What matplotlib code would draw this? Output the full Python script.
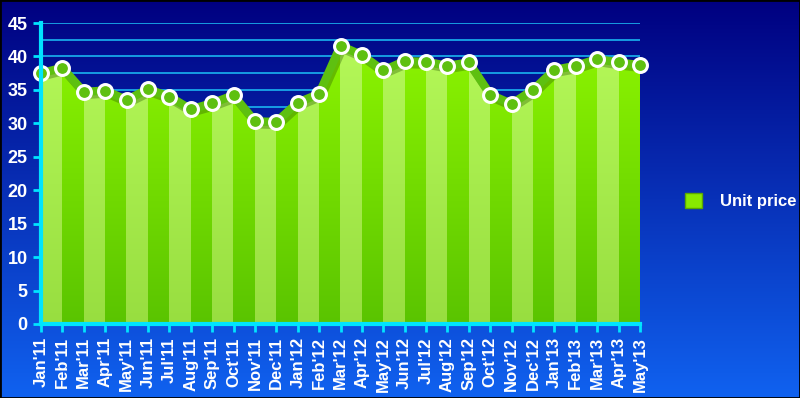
import numpy as np
import matplotlib
matplotlib.use("Agg")
import matplotlib.pyplot as plt
from matplotlib.patches import Patch, Polygon
import matplotlib.transforms as mtransforms

plt.rcParams['font.family'] = ['Liberation Sans', 'DejaVu Sans']

months = ["Jan'11", "Feb'11", "Mar'11", "Apr'11", "May'11", "Jun'11", "Jul'11",
          "Aug'11", "Sep'11", "Oct'11", "Nov'11", "Dec'11", "Jan'12", "Feb'12",
          "Mar'12", "Apr'12", "May'12", "Jun'12", "Jul'12", "Aug'12", "Sep'12",
          "Oct'12", "Nov'12", "Dec'12", "Jan'13", "Feb'13", "Mar'13", "Apr'13",
          "May'13"]
unit_price = [37.5, 38.3, 34.7, 34.9, 33.5, 35.1, 34.0, 32.1, 33.0, 34.2,
              30.3, 30.2, 33.1, 34.4, 41.6, 40.2, 37.9, 39.3, 39.2, 38.6,
              39.1, 34.3, 32.9, 35.0, 38.0, 38.6, 39.6, 39.1, 38.7]
series_name = "Unit price"

W, H = 800, 398
fig = plt.figure(figsize=(W / 100, H / 100), dpi=100)

# background gradient (navy at top -> bright blue at bottom)
bg = fig.add_axes([0, 0, 1, 1], zorder=-10)
top = np.array([0x00, 0x00, 0x80]) / 255
bot = np.array([0x10, 0x62, 0xf0]) / 255
t = np.linspace(0, 1, 256)[:, None]
grad = top[None, :] * (1 - t) + bot[None, :] * t
bg.imshow(grad[:, None, :], aspect='auto', extent=[0, 1, 0, 1])
bg.set_xlim(0, 1)
bg.set_ylim(0, 1)
bg.axis('off')
bg.add_patch(plt.Rectangle((0, 0), 1, 1, fill=False, ec='black', lw=2,
                           transform=bg.transAxes))

ax = fig.add_axes([41 / W, (H - 324) / H, (640 - 41) / W, (324 - 23) / H])
ax.patch.set_alpha(0)
n = len(unit_price)
x = np.arange(n)
ax.set_xlim(0, n - 1)
ax.set_ylim(0, 45)

# horizontal grid lines
for g in np.arange(2.5, 45.1, 2.5):
    ax.axhline(g, color='#1ab4f0', lw=1.2, zorder=1)

# striped, shaded fill under the line
rows = 200
light_top, light_bot = np.array([0xb4, 0xf8, 0x58]), np.array([0x98, 0xde, 0x40])
dark_top, dark_bot = np.array([0x8c, 0xf4, 0x00]), np.array([0x5a, 0xc4, 0x00])
tt = np.linspace(0, 1, rows)[:, None]
img = np.zeros((rows, n - 1, 3))
for i in range(n - 1):
    if i % 2 == 0:
        c = light_top * (1 - tt) + light_bot * tt
    else:
        c = dark_top * (1 - tt) + dark_bot * tt
    img[:, i, :] = c / 255
ymax = max(unit_price)
im = ax.imshow(img, aspect='auto', extent=[0, n - 1, 0, ymax],
               interpolation='nearest', zorder=2)
verts = [(0, 0)] + list(zip(x, unit_price)) + [(n - 1, 0)]
poly = Polygon(verts, closed=True, transform=ax.transData, fc='none', ec='none')
ax.add_patch(poly)
im.set_clip_path(poly)

# shadow of the line
shadow = mtransforms.offset_copy(ax.transData, fig=fig, x=2, y=-3, units='dots')
ax.plot(x, unit_price, color='#2a5a00', lw=6, alpha=0.35, transform=shadow,
        zorder=3, solid_joinstyle='round')
ax.plot(x, unit_price, color='#5ec010', lw=6, marker='o', ms=10,
        mfc='#5ec010', mec='white', mew=2.2, zorder=4, clip_on=False,
        solid_joinstyle='round')

# axes styling
cyan = '#00e4ff'
for s in ('top', 'right'):
    ax.spines[s].set_visible(False)
for s in ('left', 'bottom'):
    ax.spines[s].set_color(cyan)
    ax.spines[s].set_linewidth(3)
    ax.spines[s].set_zorder(5)
ax.set_yticks(np.arange(0, 46, 5))
ax.set_xticks(x)
ax.set_xticklabels(months, rotation=90)
ax.tick_params(colors=cyan, width=2, length=6, direction='out')
for lab in ax.get_yticklabels():
    lab.set_color('white')
    lab.set_fontweight('bold')
    lab.set_fontsize(13)
for lab in ax.get_xticklabels():
    lab.set_color('white')
    lab.set_fontweight('bold')
    lab.set_fontsize(12)

handle = Patch(facecolor='#88ea00', edgecolor='#5aa800', lw=1)
fig.legend([handle], [series_name], loc='center left',
           bbox_to_anchor=(685 / W, 1 - 201 / H), frameon=False,
           borderaxespad=0, borderpad=0,
           handlelength=1.0, handleheight=1.0, handletextpad=1.1,
           prop={'weight': 'bold', 'size': 12}, labelcolor='white')

fig.savefig('out.png', dpi=100)
